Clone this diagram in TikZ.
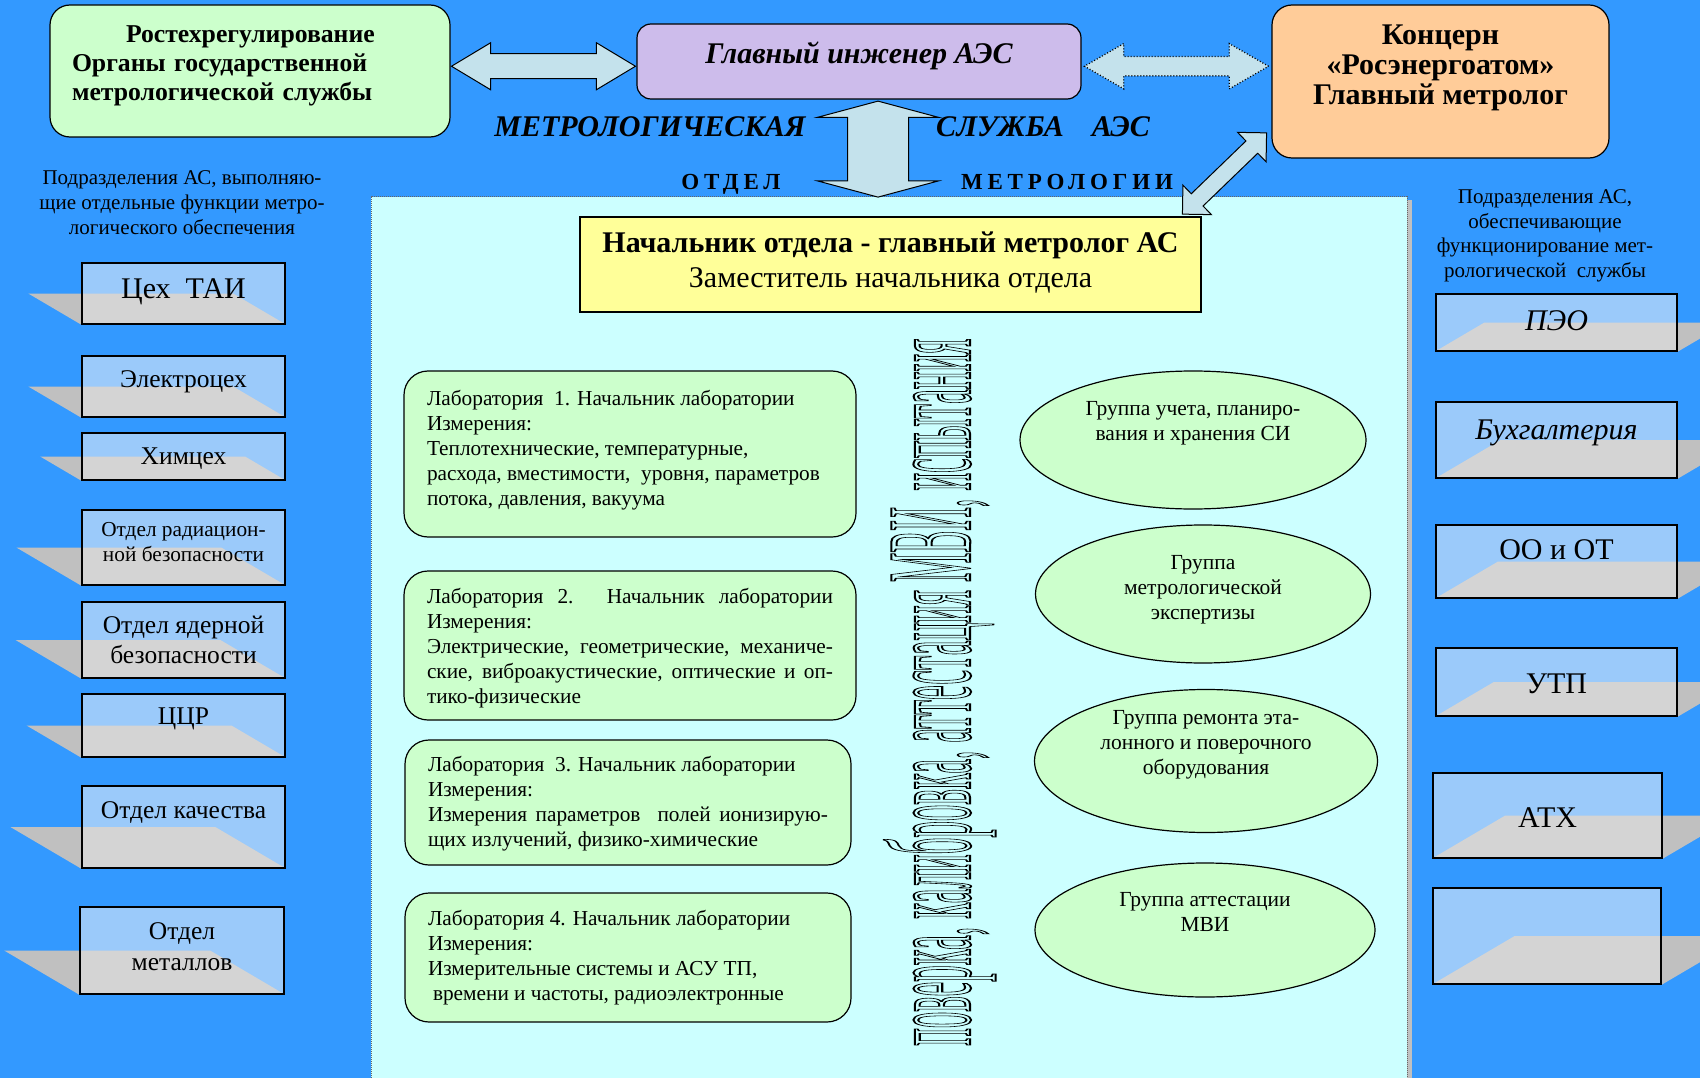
\documentclass[tikz,border=0pt]{standalone}
\usepackage{fontspec}
\setmainfont{Liberation Serif}
\usetikzlibrary{shapes.geometric,shapes.arrows,calc}
\pgfdeclarelayer{back}
\pgfdeclarelayer{shade}
\pgfsetlayers{back,shade,main}
\definecolor{sea}{RGB}{51,153,255}
\definecolor{panelcyan}{RGB}{204,255,255}
\definecolor{mint}{RGB}{204,255,204}
\definecolor{lilac}{RGB}{205,188,235}
\definecolor{peach}{RGB}{255,204,153}
\definecolor{lemon}{RGB}{255,255,153}
\definecolor{boxblue}{RGB}{155,202,250}
\definecolor{ingray}{RGB}{212,212,212}
\definecolor{outgray}{RGB}{192,192,192}
\definecolor{arrowfill}{RGB}{196,226,236}
\newcommand{\fsz}[2]{\fontsize{#1}{#2}\selectfont}
\newcommand{\hollow}[1]{\special{pdf:literal direct 1 Tr 0.6 w}#1\special{pdf:literal direct 0 Tr}}

\begin{document}
\begin{tikzpicture}[x=1pt,y=-1pt,
    topbox/.style={draw, line width=1.2pt, rounded corners=20pt},
    blockarrow/.style={double arrow, draw, line width=1pt, fill=arrowfill, inner xsep=0pt, minimum width=0pt},
    lab/.style={draw, line width=1.2pt, fill=mint, rounded corners=24pt, align=justify, inner xsep=23pt, font=\fsz{21.3}{25}},
    grp/.style={ellipse, draw, line width=1.2pt, fill=mint, align=center, inner sep=0pt, font=\fsz{21.5}{25}},
    sidebox/.style={draw, line width=1.4pt, fill=boxblue, align=center, inner sep=0pt},
    leftbox/.style={sidebox, minimum width=203pt, path picture={\fill[ingray] let \p1=(path picture bounding box.south west), \p2=(path picture bounding box.north east), \n1={0.85*(\y2-\y1)} in ({\x1-\n1},{(\y1+\y2)/2}) -- ({\x2-\n1},{(\y1+\y2)/2}) -- (\x2,\y1) -- (\x1,\y1) -- cycle;}},
    rightbox/.style={sidebox, path picture={\fill[ingray] let \p1=(path picture bounding box.south west), \p2=(path picture bounding box.north east), \n1={0.85*(\y2-\y1)} in ({\x1+\n1},{(\y1+\y2)/2}) -- ({\x2+\n1},{(\y1+\y2)/2}) -- (\x2,\y1) -- (\x1,\y1) -- cycle;}},
    note/.style={align=center, font=\fsz{21}{25}},
    banner/.style={text depth=0pt, font=\fsz{30}{32}\bfseries\itshape},
    spaced/.style={text depth=0pt, font={\fsz{23}{26}\bfseries\addfontfeature{LetterSpace=21}}}
  ]
    \useasboundingbox (0,0) rectangle (1700,1078);
    \begin{pgfonlayer}{back}
      \fill[sea] (0,0) rectangle (1700,1078);
      \fill[outgray] (1406,200) rectangle (1412,1078);
      \fill[panelcyan] (371,197) rectangle (1407,1078);
      \draw[black!60, densely dotted, line width=1pt] (371,1078) -- (371,197) -- (1407,197) -- (1407,1078);
    \end{pgfonlayer}

    \node[topbox, fill=mint, minimum width=400pt, minimum height=132pt, text width=356pt, align=left, text depth=73pt, font=\fsz{25.7}{29}\bfseries] at (250,71) (rost) {\hspace*{54pt}Ростехрегулирование\\Органы государственной\\метрологической службы};
    \node[topbox, fill=lilac, minimum width=444pt, minimum height=75pt, rounded corners=14pt, text height=21pt, text depth=17.6pt, font=\fsz{30}{32}\bfseries\itshape] at (859,61.5) (chief) {Главный инженер АЭС};
    \node[topbox, fill=peach, minimum width=337pt, minimum height=153pt, align=center, text depth=34pt, font=\fsz{30}{30}\bfseries] at (1440.5,81.5) (conc) {Концерн\\«Росэнергоатом»\\Главный метролог};
    \node[draw, line width=1.2pt, fill=lemon, minimum width=621pt, minimum height=95pt, align=center, text depth=9pt, font=\fsz{30}{35}] at (890.5,264.5) (nach) {{\bfseries Начальник отдела - главный метролог АС}\\Заместитель начальника отдела};

    \node[blockarrow, minimum height=184pt, inner ysep=12pt, double arrow head extend=11pt, double arrow tip angle=62] at ($(rost.east)!0.5!(chief.west)$) (arr1) {};
    \node[blockarrow, dotted, line width=1.3pt, minimum height=184pt, inner ysep=9pt, double arrow head extend=13pt, double arrow tip angle=60] at ($(chief.east|-arr1)!0.5!(conc.west|-arr1)$) (arr2) {};
    \node[blockarrow, rotate=90, anchor=east, minimum height=96pt, inner ysep=30pt, double arrow head extend=30pt, double arrow tip angle=150] at ($(chief.south)+(19,1)$) (arr3) {};
    \node[blockarrow, rotate=44, minimum height=117pt, inner ysep=8pt, double arrow head extend=12pt, double arrow tip angle=90] at ($(nach.north east)!0.5!(conc.south west)+(-12,-14)$) (arr4) {};

    \node[banner] at (650,127) (metr) {МЕТРОЛОГИЧЕСКАЯ};
    \node[banner] at (1043,127) (sluzh) {СЛУЖБА\hspace{28pt}АЭС};
    \node[spaced] at (731,182) (otdel) {ОТДЕЛ};
    \node[spaced] at (1067,182) (metrol) {МЕТРОЛОГИИ};

    \node[note] at (182,203) (capleft) {Подразделения АС, выполняю-\\щие отдельные функции метро-\\логического обеспечения};
    \node[note, font=\fsz{21}{24.6}] at (1545,236) (capright) {Подразделения АС,\\обеспечивающие\\функционирование мет-\\рологической\ \ службы};

    \node[leftbox, minimum height=61pt, text height=21pt, text depth=10.6pt, font=\fsz{30}{32}] at (183.5,293.5) (tai) {Цех\ \ ТАИ};
    \node[leftbox, minimum height=61pt, text height=17.85pt, text depth=16.75pt, font=\fsz{25.5}{28}] at (183.5,386.5) (elec) {Электроцех};
    \node[leftbox, minimum height=47pt, text height=17.85pt, text depth=2.75pt, font=\fsz{25.5}{28}] at (183.5,456.5) (chem) {Химцех};
    \node[leftbox, minimum height=75pt, text depth=12pt, font=\fsz{21.3}{25}] at (183.5,547.5) (rad) {Отдел радиацион-\\ной безопасности};
    \node[leftbox, minimum height=76pt, font=\fsz{25.5}{30}] at (183.5,640) (nuc) {Отдел ядерной\\безопасности};
    \node[leftbox, minimum height=63pt, text height=17.85pt, text depth=19pt, font=\fsz{25.5}{28}] at (183.5,725.5) (ccr) {ЦЦР};
    \node[leftbox, minimum height=82pt, text height=17.85pt, text depth=35pt, font=\fsz{25.5}{28}] at (183.5,827) (qual) {Отдел качества};
    \node[leftbox, minimum width=204pt, minimum height=87pt, text depth=8pt, font=\fsz{25.5}{30.5}] at (182,950.5) (metal) {Отдел\\металлов};

    \node[rightbox, minimum width=241pt, minimum height=57pt, text height=21pt, text depth=4.4pt, font=\fsz{30}{32}\itshape] at (1556.5,322.5) (peo) {ПЭО};
    \node[rightbox, minimum width=241pt, minimum height=76pt, text height=21pt, text depth=22.4pt, font=\fsz{30}{32}\itshape] at (1556.5,440) (buh) {Бухгалтерия};
    \node[rightbox, minimum width=241pt, minimum height=73pt, text height=21pt, text depth=25pt, font=\fsz{30}{32}] at (1556.5,561.5) (oo) {ОО и ОТ};
    \node[rightbox, minimum width=241pt, minimum height=68pt, text height=30pt, text depth=6.2pt, font=\fsz{30}{32}] at (1556.5,682) (utp) {УТП};
    \node[rightbox, minimum width=229pt, minimum height=85pt, text height=30pt, text depth=6.6pt, font=\fsz{30}{32}] at (1547.5,815.5) (atx) {АТХ};
    \node[rightbox, minimum width=228pt, minimum height=96pt] at (1547,936) (blank) {};

    \begin{pgfonlayer}{shade}
      \foreach \bx in {tai,elec,chem,rad,nuc,ccr,qual,metal}
        \fill[outgray] let \p1=(\bx.south west), \p2=(\bx.north east), \n1={0.85*(\y2-\y1)} in ({\x1-\n1},{(\y1+\y2)/2}) -- ({\x2-\n1},{(\y1+\y2)/2}) -- (\x2,\y1) -- (\x1,\y1) -- cycle;
      \foreach \bx in {peo,buh,oo,utp,atx,blank}
        \fill[outgray] let \p1=(\bx.south west), \p2=(\bx.north east), \n1={0.85*(\y2-\y1)} in ({\x1+\n1},{(\y1+\y2)/2}) -- ({\x2+\n1},{(\y1+\y2)/2}) -- (\x2,\y1) -- (\x1,\y1) -- cycle;
    \end{pgfonlayer}

    \node[lab, text width=406pt, minimum height=166pt, text depth=112.3pt] at (630,454) (lab1) {Лаборатория\ \ 1. Начальник лаборатории\\Измерения:\\Теплотехнические, температурные,\\расхода, вместимости,\ \ уровня, параметров\\потока, давления, вакуума};
    \node[lab, text width=406pt, minimum height=149pt, text depth=98.5pt] at (630,645.5) (lab2) {Лаборатория 2. Начальник лаборатории\linebreak Измерения:\\Электрические, геометрические, механиче-\linebreak ские, виброакустические, оптические и оп-\linebreak тико-физические};
    \node[lab, text width=400pt, minimum height=125pt, text depth=76.5pt] at (628,802.5) (lab3) {Лаборатория\ \ 3. Начальник лаборатории\\Измерения:\\Измерения параметров\ \ полей ионизирую-\linebreak щих излучений, физико-химические};
    \node[lab, text width=400pt, minimum height=129pt, text depth=78.5pt] at (628,957.5) (lab4) {Лаборатория 4. Начальник лаборатории\\Измерения:\\Измерительные системы и АСУ ТП,\\\hspace*{5pt}времени и частоты, радиоэлектронные};

    \node[grp, minimum width=346pt, minimum height=138pt, text depth=37.3pt] at (1193,440) (g1) {Группа учета, планиро-\\вания и хранения СИ};
    \node[grp, minimum width=335pt, minimum height=138pt, text depth=13.3pt] at (1203,594) (g2) {Группа\\метрологической\\экспертизы};
    \node[grp, minimum width=343pt, minimum height=143pt, text depth=36.5pt] at (1206,761) (g3) {Группа ремонта эта-\\лонного и поверочного\\оборудования};
    \node[grp, minimum width=340pt, minimum height=134pt, text depth=36.3pt] at (1205,930) (g4) {Группа аттестации\\МВИ};

    \node[rotate=90, anchor=base west, inner sep=0pt] at (970,1046) (vtext) {\resizebox{707pt}{86pt}{\fsz{35}{35}\hollow{поверка, калибровка, аттестация МВИ, испытания}}};
\end{tikzpicture}
\end{document}
